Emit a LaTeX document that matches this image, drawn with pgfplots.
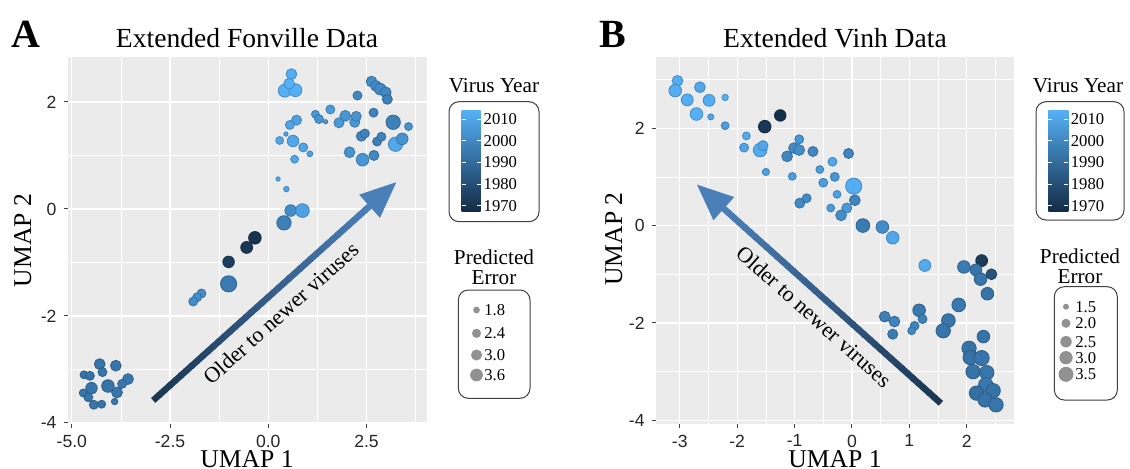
\documentclass[border=0pt]{standalone}
\usepackage{pgfplots}
\pgfplotsset{compat=1.18}
\usepackage{pgfplotstable}
\usepackage{fontspec}
\setmainfont{Liberation Serif}
\setsansfont{Liberation Sans}
\usetikzlibrary{calc}

\definecolor{bgcol}{RGB}{235,235,235}
\definecolor{lowc}{HTML}{132B43}
\definecolor{highc}{HTML}{56B1F7}
\definecolor{midc}{RGB}{51,108,158}
\definecolor{arrTail}{HTML}{1B3551}
\definecolor{arrHead}{HTML}{4A7FB8}
\definecolor{keygray}{RGB}{145,145,145}

\pgfplotsset{
 ggbase/.style={
  scale only axis,
  axis background/.style={fill=bgcol},
  axis line style={draw=none},
  grid=both,
  major grid style={white, line width=0.6pt},
  minor grid style={white, line width=0.3pt},
  tick align=outside,
  tick pos=left,
  major tick length=2pt, minor tick length=0pt,
  every tick/.style={black!75, line width=0.5pt},
  ticklabel style={font=\sffamily\fontsize{8.8}{10}\selectfont, text=black!85},
  colormap={gg}{rgb255=(19,43,67) rgb255=(51,108,158) rgb255=(86,177,247)},
  point meta min=1967.2, point meta max=2014.3,
 }
}

% Panel A: x y year error
\pgfplotstableread{
x y year err
0.59 2.52 2013 2.65
0.42 2.21 2014 3.33
0.69 2.22 2014 3.33
0.53 2.34 2014 2.65
2.63 2.38 2002 2.65
2.74 2.30 2001 2.65
2.85 2.24 2001 2.88
2.99 2.18 2000 2.65
3.03 2.05 1998 2.44
2.27 2.12 2000 2.17
1.20 1.77 2006 1.93
1.29 1.68 2005 2.17
1.46 1.63 2006 1.35
1.58 1.86 2007 2.17
1.80 1.61 2006 2.44
1.96 1.74 2005 2.65
2.20 1.62 2005 2.44
2.24 1.73 2004 2.44
2.68 1.80 1999 2.17
3.18 1.62 1998 3.84
3.57 1.54 2004 1.93
0.72 1.66 2009 2.44
0.55 1.57 2010 2.17
0.45 1.40 2010 1.35
0.29 1.28 2011 1.93
0.63 1.27 2011 2.88
0.89 1.15 2010 2.17
1.06 1.03 2009 1.54
0.67 0.93 2011 1.93
2.37 1.36 1999 2.44
2.46 1.41 1999 2.17
2.77 1.26 1998 2.17
2.88 1.35 1999 2.17
3.24 1.21 2011 3.84
3.41 1.31 2004 2.88
2.07 1.06 2004 2.65
2.40 0.92 2005 3.20
2.69 1.00 2000 2.44
0.25 0.56 2012 1.35
0.46 0.37 2010 1.49
0.57 -0.03 2002 2.88
0.87 -0.03 2009 3.60
0.40 -0.26 1998 3.84
-0.34 -0.54 1970 3.22
-0.55 -0.72 1972 2.98
-1.01 -0.99 1974 2.88
-1.01 -1.40 1996 4.59
-1.70 -1.58 2002 2.17
-1.81 -1.65 2002 2.17
-1.91 -1.73 2002 2.17
-4.29 -2.90 1994 2.65
-3.88 -2.93 1994 2.65
-4.22 -3.05 1994 2.17
-4.69 -3.10 1994 1.93
-4.54 -3.12 1993 2.17
-3.57 -3.18 1995 2.65
-3.72 -3.27 1995 2.17
-4.08 -3.31 1993 3.22
-4.50 -3.35 1994 2.88
-3.85 -3.43 1994 2.65
-4.71 -3.44 1994 1.93
-4.58 -3.52 1994 2.17
-4.44 -3.66 1994 2.17
-4.24 -3.65 1994 1.93
-3.91 -3.60 1995 1.66
}\dataA

% Panel B: x y year error
\pgfplotstableread{
x y year err
-3.04 2.97 2013 2.18
-3.08 2.77 2013 2.57
-2.65 2.84 2011 2.18
-2.87 2.58 2013 2.40
-2.49 2.57 2013 2.40
-2.21 2.63 2014 1.50
-2.71 2.29 2014 2.57
-2.46 2.23 2011 1.46
-2.21 2.05 2008 1.68
-1.52 2.03 1972 2.57
-1.25 2.26 1969 2.33
-1.84 1.84 2012 1.68
-1.88 1.60 2010 1.85
-1.60 1.55 2012 2.83
-1.55 1.64 2011 2.04
-1.50 1.10 2009 1.59
-1.13 1.42 2000 2.18
-1.01 1.59 2001 2.18
-0.92 1.55 2002 2.18
-0.92 1.77 2005 1.85
-0.68 1.52 2000 2.04
-1.04 1.01 2008 1.68
-0.56 1.15 2007 1.68
-0.34 1.31 2011 1.85
-0.06 1.48 1999 2.04
-0.50 0.88 2008 1.85
-0.30 1.00 2005 1.85
0.03 0.81 2013 3.51
-0.26 0.64 2009 1.68
0.05 0.52 1999 2.18
-0.91 0.46 2001 2.04
-0.79 0.56 2001 1.85
-0.37 0.36 2007 1.68
-0.09 0.36 2006 2.04
-0.19 0.21 2002 2.18
0.19 0.00 1996 2.83
0.53 -0.03 2002 2.57
0.71 -0.25 2011 2.57
1.27 -0.82 2012 2.40
1.95 -0.85 1996 2.57
2.26 -0.72 1973 2.40
2.16 -0.91 1994 2.40
2.24 -1.10 1994 2.57
2.43 -1.00 1982 2.18
2.36 -1.40 1993 2.57
1.86 -1.63 1995 2.83
1.68 -1.95 1994 2.83
1.59 -2.16 1994 3.00
1.17 -1.74 1995 2.57
1.23 -1.92 1998 1.85
1.09 -2.06 1999 1.85
1.04 -2.16 2001 1.68
0.57 -1.87 1997 2.18
0.74 -1.97 1999 2.18
0.71 -2.23 1996 2.04
2.29 -2.28 1993 2.57
2.04 -2.52 1993 3.00
2.06 -2.71 1993 3.00
2.26 -2.72 1994 3.20
2.11 -3.00 1993 3.00
2.35 -3.02 1994 3.00
2.33 -3.27 1995 3.00
2.46 -3.39 1993 3.00
2.17 -3.44 1992 3.00
2.32 -3.58 1993 3.00
2.51 -3.68 1994 3.00
}\dataB

\newcommand{\legfont}{\fontsize{8.3}{9}\selectfont}
\newcommand{\legtitle}{\fontsize{10.6}{9.8}\selectfont}

\begin{document}
\begin{tikzpicture}
\useasboundingbox (0,0) rectangle (565pt,234pt);

% ---------------- Panel A ----------------
\begin{axis}[ggbase,
  at={(33.75pt,22pt)}, anchor=south west,
  width=179.75pt, height=183.5pt,
  xmin=-5.11, xmax=4.04, ymin=-4.02, ymax=2.84,
  xtick={-5,-2.5,0,2.5}, xticklabels={-5.0,-2.5,0.0,2.5},
  ytick={-4,-2,0,2}, yticklabels={-4,-2,0,2},
  minor xtick={-3.75,-1.25,1.25,3.75}, minor ytick={-3,-1,1},
]
\addplot[scatter, only marks, mark=*, scatter src=explicit,
  visualization depends on={1.08*sqrt(max(-71+64.5*\thisrow{err},9))/4 \as \rad},
  scatter/@pre marker code/.append style={/tikz/mark size=\rad pt, /tikz/line width=0.1pt}]
  table[x=x, y=y, meta=year] {\dataA};
\coordinate (TA) at (axis cs:-2.93,-3.58);
\coordinate (HA) at (axis cs:3.26,0.50);
\end{axis}

% ---------------- Panel B ----------------
\begin{axis}[ggbase,
  at={(327.85pt,22.1pt)}, anchor=south west,
  width=179.05pt, height=183.4pt,
  xmin=-3.42, xmax=2.82, ymin=-4.07, ymax=3.46,
  xtick={-3,-2,-1,0,1,2}, xticklabels={-3,-2,-1,0,1,2},
  ytick={-4,-2,0,2}, yticklabels={-4,-2,0,2},
  minor xtick={-2.5,-1.5,-0.5,0.5,1.5,2.5}, minor ytick={-3,-1,1,3},
]
\addplot[scatter, only marks, mark=*, scatter src=explicit,
  visualization depends on={1.08*sqrt(max(-105+94*\thisrow{err},9))/4 \as \rad},
  scatter/@pre marker code/.append style={/tikz/mark size=\rad pt, /tikz/line width=0.1pt}]
  table[x=x, y=y, meta=year] {\dataB};
\coordinate (TB) at (axis cs:1.55,-3.65);
\coordinate (HB) at (axis cs:-2.70,0.84);
\end{axis}

% ---------------- Arrows ----------------
\coordinate (BA) at ($(HA)!18pt!(TA)$);
\coordinate (BB) at ($(HB)!18pt!(TB)$);
\foreach \i in {0,...,39} {
  \pgfmathsetmacro\a{\i/40}
  \pgfmathsetmacro\b{(\i+1.3)/40}
  \pgfmathsetmacro\p{100*(\i+0.5)/40}
  \draw[line width=3.2pt, arrHead!\p!arrTail] ($(TA)!\a!(BA)$) -- ($(TA)!\b!(BA)$);
  \draw[line width=3.2pt, arrHead!\p!arrTail] ($(TB)!\a!(BB)$) -- ($(TB)!\b!(BB)$);
}
\fill[arrHead] (HA) -- ($(BA)!7.8pt!90:(HA)$) -- ($(BA)!7.8pt!-90:(HA)$) -- cycle;
\fill[arrHead] (HB) -- ($(BB)!7.8pt!90:(HB)$) -- ($(BB)!7.8pt!-90:(HB)$) -- cycle;

% ---------------- Text & legends (pixel coordinates) ----------------
\begin{scope}[x=0.5pt, y=-0.5pt, shift={(0,-468)}]
  % arrow annotations
  \node[rotate=41.9, font=\fontsize{11}{12}\selectfont] at (280.8,313.3) {Older to newer viruses};
  \node[rotate=-41.9, font=\fontsize{11}{12}\selectfont] at (814,316.5) {Older to newer viruses};
  % panel letters
  \node[anchor=base, font=\bfseries\fontsize{20}{22}\selectfont, inner sep=0] at (26,47) {A};
  \node[anchor=base, font=\bfseries\fontsize{20}{22}\selectfont, inner sep=0] at (613,47) {B};
  % titles
  \node[anchor=base, font=\fontsize{13.8}{15}\selectfont, inner sep=0] at (247,47) {Extended Fonville Data};
  \node[anchor=base, font=\fontsize{13.8}{15}\selectfont, inner sep=0] at (835,47) {Extended Vinh Data};
  % axis labels
  \node[anchor=base, font=\fontsize{12.8}{14}\selectfont, inner sep=0] at (247,467) {UMAP 1};
  \node[anchor=base, font=\fontsize{12.8}{14}\selectfont, inner sep=0] at (835,467) {UMAP 1};
  \node[anchor=base, rotate=90, font=\fontsize{12.8}{14}\selectfont, inner sep=0] at (31,240.5) {UMAP 2};
  \node[anchor=base, rotate=90, font=\fontsize{12.8}{14}\selectfont, inner sep=0] at (622,239) {UMAP 2};

  % ---- Legend A: Virus Year ----
  \node[font=\legtitle] at (494,86) {Virus Year};
  \draw[black!75, line width=0.5pt, rounded corners=5pt, fill=white] (449,101.7) rectangle (539,221.7);
  \shade[bottom color=lowc, top color=highc, middle color=midc] (461.7,211.7) rectangle (480.7,110);
  \foreach \yr/\lab in {2010/2010,2000/2000,1990/1990,1980/1980,1970/1970} {
    \pgfmathsetmacro\yy{211.7-(\yr-1967.2)*2.159}
    \draw[white, line width=0.4pt] (461.7,\yy) -- (465.5,\yy);
    \draw[white, line width=0.4pt] (476.9,\yy) -- (480.7,\yy);
    \node[anchor=west, font=\legfont, inner sep=0] at (483.3,\yy) {\lab};
  }
  % ---- Legend A: Predicted Error ----
  \node[font=\legtitle, align=center] at (494,267.5) {Predicted\\Error};
  \draw[black!75, line width=0.5pt, rounded corners=5pt, fill=white] (458.3,290) rectangle (530,398.3);
  \foreach \yy/\d/\lab in {310/6.7/1.8, 333.3/9.15/2.4, 355/11.07/3.0, 375/12.7/3.6} {
    \pgfmathsetmacro\rr{\d*0.25}
    \fill[keygray] (476.5,\yy) circle[radius=\rr pt];
    \node[anchor=west, font=\legfont, inner sep=0] at (484,\yy) {\lab};
  }

  % ---- Legend B: Virus Year ----
  \node[font=\legtitle] at (1078,86) {Virus Year};
  \draw[black!75, line width=0.5pt, rounded corners=5pt, fill=white] (1036,101.7) rectangle (1124,220);
  \shade[bottom color=lowc, top color=highc, middle color=midc] (1048.3,211.7) rectangle (1068.3,110);
  \foreach \yr/\lab in {2010/2010,2000/2000,1990/1990,1980/1980,1970/1970} {
    \pgfmathsetmacro\yy{211.7-(\yr-1967.2)*2.159}
    \draw[white, line width=0.4pt] (1048.3,\yy) -- (1052.3,\yy);
    \draw[white, line width=0.4pt] (1064.3,\yy) -- (1068.3,\yy);
    \node[anchor=west, font=\legfont, inner sep=0] at (1070.5,\yy) {\lab};
  }
  % ---- Legend B: Predicted Error ----
  \node[font=\legtitle, align=center] at (1080,266) {Predicted\\Error};
  \draw[black!75, line width=0.5pt, rounded corners=5pt, fill=white] (1054.3,286.7) rectangle (1117.3,400);
  \foreach \yy/\d/\lab in {306.7/6/1.5, 323.3/9.1/2.0, 341.7/11.4/2.5, 357.7/13.3/3.0, 374.3/15/3.5} {
    \pgfmathsetmacro\rr{\d*0.25}
    \fill[keygray] (1066,\yy) circle[radius=\rr pt];
    \node[anchor=west, font=\legfont, inner sep=0] at (1075,\yy) {\lab};
  }
\end{scope}
\end{tikzpicture}
\end{document}
